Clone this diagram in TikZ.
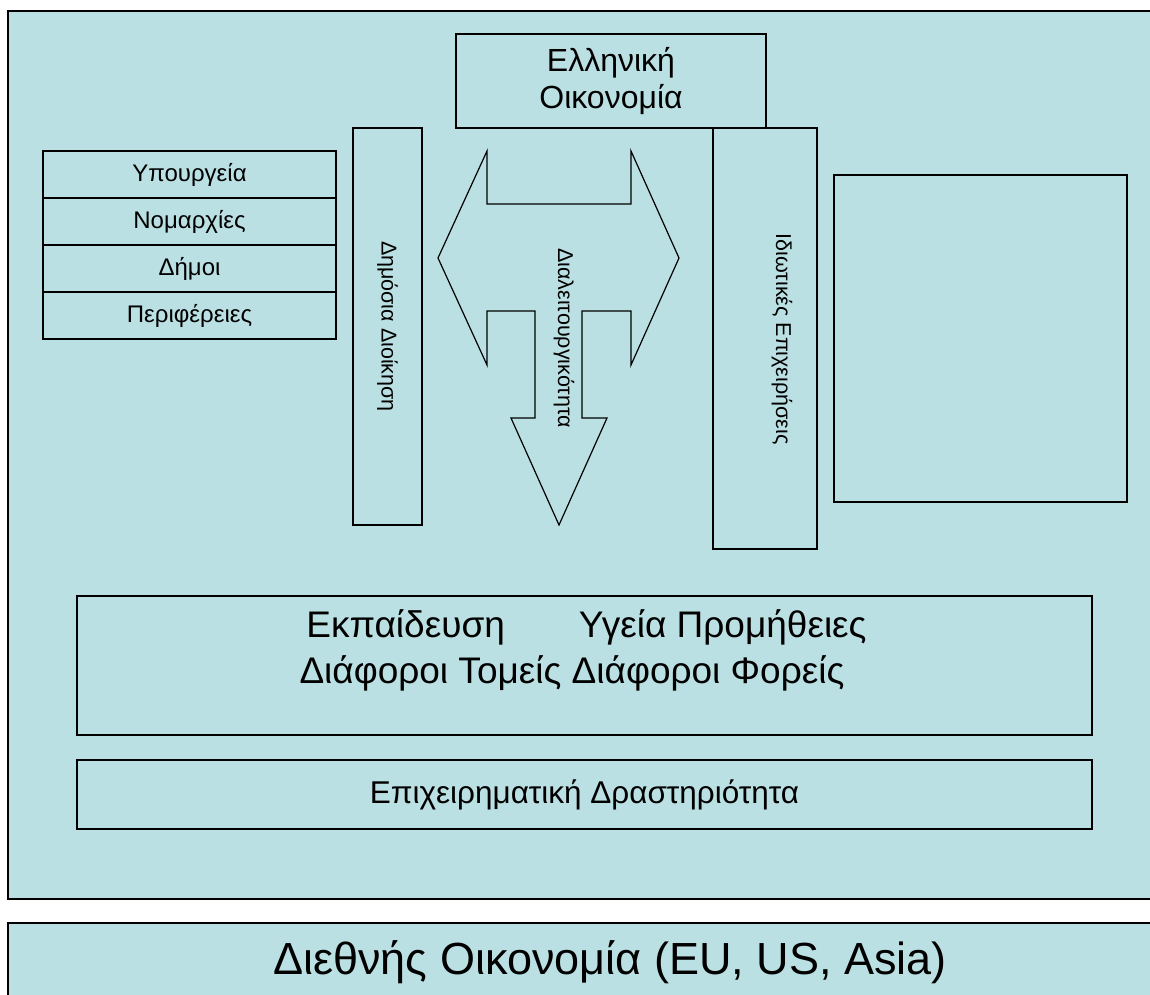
\documentclass[tikz,border=0pt]{standalone}
\usepackage{fontspec}
\setmainfont{Liberation Sans}
\usetikzlibrary{positioning}
\definecolor{panel}{RGB}{187,224,227}
\tikzset{
  box/.style={draw, line width=1.5pt, inner sep=0pt, outer sep=0pt, align=center},
  row/.style={box, minimum width=293, minimum height=47, font=\fontsize{24}{28}\selectfont},
  uptext/.style={rotate=-90, inner sep=0pt, font=\fontsize{21.5}{25}\selectfont},
  bigtext/.style={inner sep=0pt, anchor=base, font=\fontsize{37}{45}\selectfont}
}
\begin{document}
\begin{tikzpicture}[x=1pt, y=-1pt]
  % the frame
  \useasboundingbox (0,0) rectangle (1150,994);
  \path[clip] (0,0) rectangle (1150,994);
  \draw[fill=panel, line width=1.8pt] (8,11) rectangle (1180,899);
  \draw[fill=panel, line width=1.8pt] (8,923) rectangle (1180,1030);

  % the top box
  \node[box, minimum width=310, minimum height=94, font=\fontsize{32}{37}\selectfont]
    (greek) at (611,81) {Ελληνική\\Οικονομία};

  % the left stack
  \node[row] (min) at (189.5,174.5) {Υπουργεία};
  \node[row, below=0pt of min] (nom) {Νομαρχίες};
  \node[row, below=0pt of nom] (dim) {Δήμοι};
  \node[row, below=0pt of dim] (per) {Περιφέρειες};

  % the two columns
  \node[box, minimum width=69, minimum height=397] (pub) at (387.5,326.5) {};
  \node[uptext] (publabel) at (pub.center) {Δημόσια Διοίκηση};
  \node[box, minimum width=104, minimum height=421] (priv) at (765,338.5) {};
  \node[uptext] (privlabel) at (782,339) {Ιδιωτικές Επιχειρήσεις};
  \node[box, minimum width=293, minimum height=327] (empty) at (980.5,338.5) {};

  % the arrow
  \draw[line width=1.2pt, line join=miter]
    (487,151) -- (487,204) -- (631,204) -- (631,151) -- (679,258) -- (631,365)
    -- (631,311) -- (582,311) -- (582,418) -- (607,418) -- (559,525) -- (511,418)
    -- (535,418) -- (535,311) -- (487,311) -- (487,365) -- (438,258) -- cycle;
  \node[uptext] (inter) at (564,338) {Διαλειτουργικότητα};

  % the lower boxes
  \node[box, minimum width=1015, minimum height=139] (sect) at (584.5,665.5) {};
  \node[bigtext] (sectone) at (586.5,637) {Εκπαίδευση\hspace{74pt}Υγεία Προμήθειες};
  \node[bigtext] (secttwo) at (572,683) {Διάφοροι Τομείς Διάφοροι Φορείς};
  \node[box, minimum width=1015, minimum height=69, font=\fontsize{31.5}{36}\selectfont]
    (biz) at (584.5,794.5) {Επιχειρηματική Δραστηριότητα};

  % labels
  \node[inner sep=0pt, font=\fontsize{45}{52}\selectfont] (world) at (610,962)
    {Διεθνής Οικονομία (EU, US, Asia)};
\end{tikzpicture}
\end{document}
